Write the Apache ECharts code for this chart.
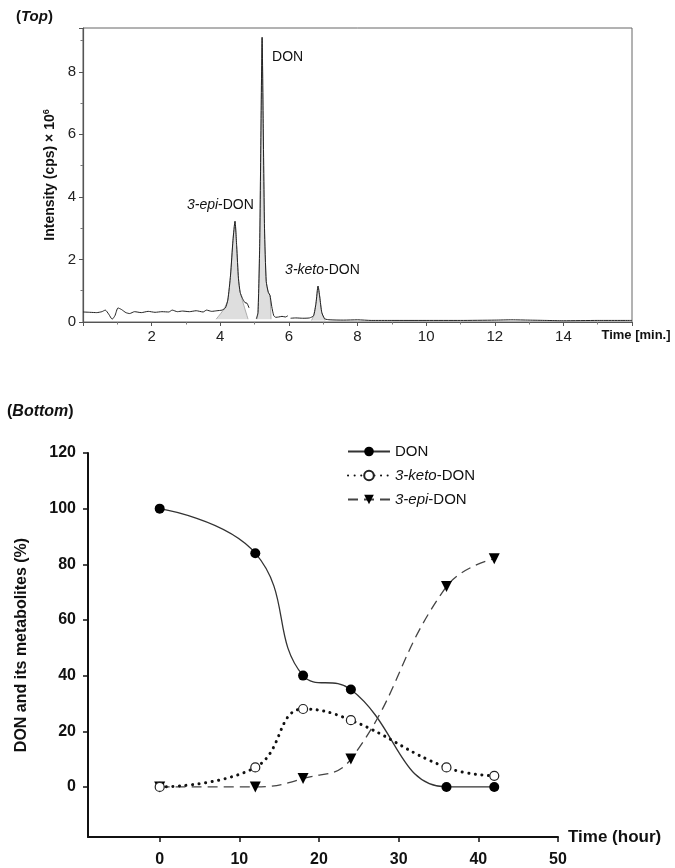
<!DOCTYPE html>
<html>
<head>
<meta charset="utf-8">
<script src="https://cdn.jsdelivr.net/npm/echarts@6/dist/echarts.min.js"></script>
<style>
  html, body { margin: 0; padding: 0; background: #fff; }
  #main { width: 675px; height: 868px; }
</style>
</head>
<body>
<div id="main"></div>
<script>
// 色谱图 (Top): 读数 [时间 min, 强度 ×10^6]，'-' 断开曲线
var traceBase = [[0,0.32],[0.2,0.31],[0.4,0.3],[0.55,0.33],[0.65,0.38],[0.75,0.25],[0.85,0.09],[0.93,0.2],[1.02,0.45],[1.12,0.4],[1.25,0.3],[1.36,0.27],[1.5,0.33],[1.7,0.3],[1.9,0.34],[2.1,0.31],[2.3,0.33],[2.5,0.32],[2.6,0.38],[2.75,0.33],[2.9,0.35],[3.1,0.33],[3.3,0.36],[3.5,0.32],[3.6,0.38],[3.75,0.34],[3.9,0.36],[4.05,0.38],[4.15,0.45]];
var traceEpi = [[4.22,0.7],[4.3,1.5],[4.37,2.6],[4.43,3.22],[4.48,2.4],[4.53,1.4],[4.58,0.95],[4.65,0.75],[4.72,0.62],[4.78,0.6],[4.84,0.45]];
var traceDon = [[5.05,0.1],[5.1,0.3],[5.15,2.5],[5.19,6.5],[5.22,9.1],[5.25,6.5],[5.29,3.0],[5.34,1.3],[5.4,0.95],[5.45,0.85],[5.5,0.5],[5.56,0.2],[5.62,0.15],[5.7,0.16],[5.8,0.18],[5.9,0.16],[5.97,0.2]];
var traceKeto = [[6.05,0.12],[6.2,0.13],[6.4,0.12],[6.6,0.13],[6.72,0.2],[6.79,0.6],[6.85,1.15],[6.9,0.8],[6.96,0.3],[7.05,0.1],[7.2,0.07],[7.6,0.06],[8.0,0.07],[8.4,0.05],[9,0.05],[10,0.05],[11,0.05],[12,0.06],[12.5,0.07],[13,0.06],[13.5,0.05],[14,0.04],[15,0.05],[16,0.05]];

// 积分阴影区
var shadeEpi = [[3.88,0.09],[4.1,0.4],[4.22,0.7],[4.3,1.5],[4.37,2.6],[4.43,3.22],[4.48,2.4],[4.53,1.4],[4.58,0.95],[4.81,0.09]];
var shadeDon = [[5.07,0.09],[5.1,0.3],[5.15,2.5],[5.19,6.5],[5.22,9.1],[5.25,6.5],[5.29,3.0],[5.34,1.3],[5.4,0.95],[5.45,0.85],[5.48,0.09]];
var shadeKeto = [[6.66,0.05],[6.72,0.2],[6.79,0.6],[6.85,1.15],[6.9,0.8],[6.96,0.3],[7.05,0.05]];

// 峰标签位置
var peakLabels = [
  { name: 'DON', coord: [5.51, 8.47] },
  { name: '{i|3-epi}-DON', coord: [3.03, 3.74] },
  { name: '{i|3-keto}-DON', coord: [5.89, 1.66] }
];

// 代谢曲线 (Bottom)
var hours = [0, 12, 18, 24, 36, 42];
var donPct = [100, 84, 40, 35, 0, 0];
var ketoPct = [0, 7, 28, 24, 7, 4];
var epiPct = [0, 0, 3, 10, 72, 82];
var pctTicks = [0, 20, 40, 60, 80, 100, 120];
var hourTicks = [0, 10, 20, 30, 40, 50];

function pairs(xs, ys) {
    return xs.map(function (x, i) { return [x, ys[i]]; });
}

var trace = traceBase.concat(traceEpi, [[4.95, '-']], traceDon, [[6.01, '-']], traceKeto);

var myChart = echarts.init(document.getElementById('main'));

var font = '"Liberation Sans", Arial, sans-serif';
var italic = { fontStyle: 'italic', fontFamily: font, fontSize: 14, color: '#111' };

function shade(data) {
    return {
        type: 'line',
        xAxisIndex: 0,
        yAxisIndex: 0,
        data: data,
        symbol: 'none',
        smooth: 0.2,
        silent: true,
        z: 1,
        lineStyle: { color: '#9a9a9a', width: 0.8 },
        areaStyle: { color: '#dedede', opacity: 1, origin: data[0][1] }
    };
}

myChart.setOption({
    animation: false,
    textStyle: { fontFamily: font },
    title: [
        {
            text: '({i|Top})',
            left: 11,
            top: 4,
            textStyle: {
                fontSize: 15, fontWeight: 'bold', color: '#111',
                rich: { i: { fontSize: 15, fontWeight: 'bold', fontStyle: 'italic', color: '#111' } }
            }
        },
        {
            text: '({i|Bottom})',
            left: 2,
            top: 399,
            textStyle: {
                fontSize: 16, fontWeight: 'bold', color: '#111',
                rich: { i: { fontSize: 16, fontWeight: 'bold', fontStyle: 'italic', color: '#111' } }
            }
        }
    ],
    legend: {
        data: ['DON', '3-keto-DON', '3-epi-DON'],
        orient: 'vertical',
        left: 342,
        top: 439,
        itemWidth: 42,
        itemHeight: 12,
        itemGap: 9,
        selectedMode: false,
        formatter: function (name) {
            if (name === 'DON') return 'DON';
            return '{i|' + name.replace('-DON', '') + '}-DON';
        },
        textStyle: {
            fontSize: 15, color: '#111',
            rich: { i: { fontSize: 15, fontStyle: 'italic', color: '#111' } }
        }
    },
    grid: [
        { left: 83, top: 28, right: 43, bottom: 546, show: true, borderColor: '#666', borderWidth: 1 },
        { left: 88, top: 453, right: 117, bottom: 31 }
    ],
    xAxis: [
        {
            gridIndex: 0,
            type: 'value',
            min: 0, max: 16, interval: 2,
            name: 'Time [min.]',
            nameLocation: 'end',
            nameGap: 4,
            nameTextStyle: { fontSize: 13, fontWeight: 'bold', color: '#111', align: 'center', verticalAlign: 'top', padding: [7, 0, 0, 0] },
            axisLine: { lineStyle: { color: '#555', width: 1.2 } },
            axisTick: { length: 4, lineStyle: { color: '#555' } },
            minorTick: { show: true, splitNumber: 2, length: 2.5, lineStyle: { color: '#777' } },
            axisLabel: {
                fontSize: 15, color: '#222', margin: 7,
                formatter: function (v) { return (v === 0 || v === 16) ? '' : v; }
            },
            splitLine: { show: false }
        },
        {
            gridIndex: 1,
            type: 'value',
            min: -9, max: 50,
            name: 'Time (hour)',
            nameLocation: 'end',
            nameGap: 10,
            nameTextStyle: { fontSize: 17, fontWeight: 'bold', color: '#111' },
            axisLine: { onZero: false, lineStyle: { color: '#111', width: 2 } },
            axisTick: { customValues: hourTicks, length: 5, lineStyle: { color: '#111', width: 1.5 } },
            axisLabel: { customValues: hourTicks, fontSize: 16, fontWeight: 'bold', color: '#111', margin: 15 },
            splitLine: { show: false }
        }
    ],
    yAxis: [
        {
            gridIndex: 0,
            type: 'value',
            min: 0, max: 9.4, interval: 2,
            name: 'Intensity (cps) × 10{sup|6}',
            nameLocation: 'middle',
            nameGap: 15,
            nameTextStyle: {
                fontSize: 14, fontWeight: 'bold', color: '#111',
                rich: { sup: { fontSize: 9, fontWeight: 'bold', color: '#111', verticalAlign: 'top', padding: [0, 0, 7, 0] } }
            },
            axisLine: { lineStyle: { color: '#555', width: 1.2 } },
            axisTick: { length: 4, lineStyle: { color: '#555' } },
            minorTick: { show: true, splitNumber: 2, length: 2.5, lineStyle: { color: '#777' } },
            axisLabel: {
                fontSize: 15, color: '#222', margin: 7,
                formatter: function (v) { return v % 2 === 0 ? v : ''; }
            },
            splitLine: { show: false }
        },
        {
            gridIndex: 1,
            type: 'value',
            min: -18, max: 120,
            name: 'DON and its metabolites (%)',
            nameLocation: 'middle',
            nameGap: 58,
            nameTextStyle: { fontSize: 16, fontWeight: 'bold', color: '#111' },
            axisLine: { onZero: false, lineStyle: { color: '#111', width: 2 } },
            axisTick: { customValues: pctTicks, length: 5, lineStyle: { color: '#111', width: 1.5 } },
            axisLabel: { customValues: pctTicks, fontSize: 16, fontWeight: 'bold', color: '#111', margin: 12 },
            splitLine: { show: false }
        }
    ],
    series: [
        shade(shadeEpi),
        shade(shadeDon),
        shade(shadeKeto),
        {
            name: 'trace',
            type: 'line',
            xAxisIndex: 0,
            yAxisIndex: 0,
            data: trace,
            symbol: 'none',
            smooth: 0.2,
            connectNulls: false,
            z: 3,
            lineStyle: { color: '#222', width: 1 },
            markPoint: {
                symbol: 'circle',
                symbolSize: 0,
                silent: true,
                label: {
                    show: true,
                    position: 'right',
                    distance: 0,
                    fontSize: 14,
                    color: '#111',
                    formatter: function (p) { return p.name; },
                    rich: { i: italic }
                },
                data: peakLabels
            }
        },
        {
            name: 'DON',
            type: 'line',
            xAxisIndex: 1,
            yAxisIndex: 1,
            data: pairs(hours, donPct),
            smooth: 0.45,
            symbol: 'circle',
            symbolSize: 10,
            z: 4,
            itemStyle: { color: '#000' },
            lineStyle: { color: '#333', width: 1.3 }
        },
        {
            name: '3-keto-DON',
            type: 'line',
            xAxisIndex: 1,
            yAxisIndex: 1,
            data: pairs(hours, ketoPct),
            smooth: 0.45,
            symbol: 'circle',
            symbolSize: 9,
            z: 5,
            itemStyle: { color: '#fff', borderColor: '#222', borderWidth: 1.2 },
            lineStyle: { color: '#111', width: 3, type: [0.1, 6.5], cap: 'round' }
        },
        {
            name: '3-epi-DON',
            type: 'line',
            xAxisIndex: 1,
            yAxisIndex: 1,
            data: pairs(hours, epiPct),
            smooth: 0.45,
            symbol: 'triangle',
            symbolRotate: 180,
            symbolSize: 11,
            z: 4,
            itemStyle: { color: '#000' },
            lineStyle: { color: '#444', width: 1.3, type: [10, 6] }
        }
    ]
});
</script>
</body>
</html>
